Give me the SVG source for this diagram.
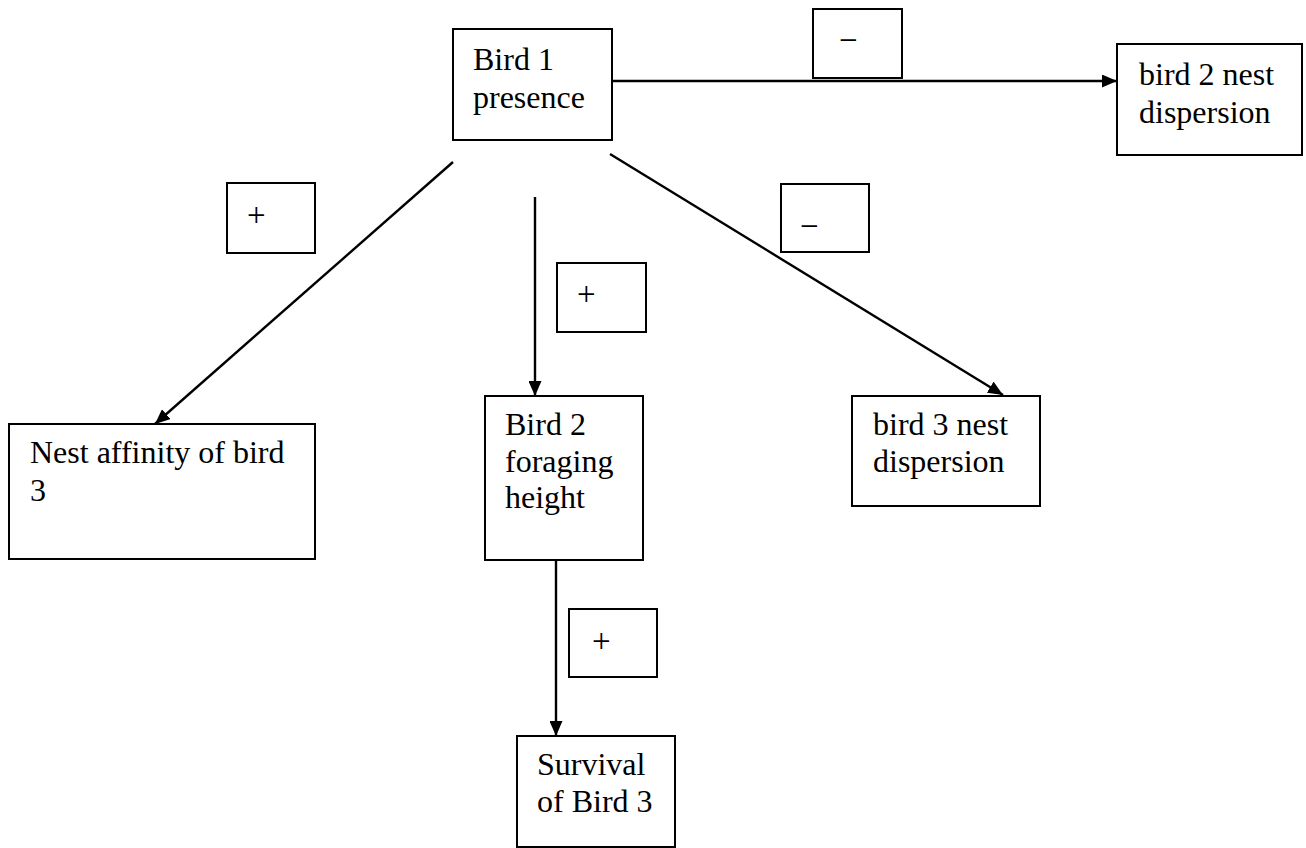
<svg xmlns="http://www.w3.org/2000/svg" width="1306" height="848" viewBox="0 0 1306 848">
<style>
  .box { fill: #ffffff; stroke: #000000; stroke-width: 2; }
  .lbl { fill: none; stroke: #000000; stroke-width: 2; }
  .t { font-family: "Liberation Serif", "Times New Roman", serif; font-size: 32px; fill: #000000; }
  .s { font-family: "Liberation Serif", "Times New Roman", serif; font-size: 33px; fill: #000000; }
  .edge { fill: none; stroke: #000000; stroke-width: 2.4; }
</style>
<defs>
  <marker id="arrow" viewBox="0 0 15 13" refX="15" refY="6.5" markerWidth="15" markerHeight="13" markerUnits="userSpaceOnUse" orient="auto">
    <path d="M0,0 L15,6.5 L0,13 Z" fill="#000000"/>
  </marker>
</defs>
<rect width="1306" height="848" fill="#ffffff"/>

<g id="connectors">
  <line class="edge" x1="612" y1="81" x2="1117" y2="81" marker-end="url(#arrow)"/>
  <line class="edge" x1="453" y1="162" x2="155" y2="424" marker-end="url(#arrow)"/>
  <line class="edge" x1="535" y1="197" x2="535" y2="396" marker-end="url(#arrow)"/>
  <line class="edge" x1="610" y1="154" x2="1003" y2="395" marker-end="url(#arrow)"/>
  <line class="edge" x1="556" y1="560" x2="556" y2="736" marker-end="url(#arrow)"/>
</g>

<g id="sign-labels">
  <g id="sign-minus-top">
    <rect class="lbl" x="813" y="9" width="89" height="69"/>
    <text class="s" x="839" y="51">−</text>
  </g>
  <g id="sign-plus-left">
    <rect class="lbl" x="227" y="183" width="88" height="70"/>
    <text class="s" x="247" y="226">+</text>
  </g>
  <g id="sign-plus-middle">
    <rect class="lbl" x="557" y="263" width="89" height="69"/>
    <text class="s" x="577" y="305">+</text>
  </g>
  <g id="sign-minus-right">
    <rect class="lbl" x="781" y="184" width="88" height="68"/>
    <text class="s" x="800" y="237">−</text>
  </g>
  <g id="sign-plus-bottom">
    <rect class="lbl" x="569" y="609" width="88" height="68"/>
    <text class="s" x="592" y="652">+</text>
  </g>
</g>

<g id="node-bird1-presence">
  <rect class="box" x="453" y="29" width="159" height="111"/>
  <text class="t" x="473" y="70">Bird 1</text>
  <text class="t" x="473" y="108">presence</text>
</g>

<g id="node-bird2-nest-dispersion">
  <rect class="box" x="1117" y="44" width="185" height="111"/>
  <text class="t" x="1139" y="85">bird 2 nest</text>
  <text class="t" x="1139" y="123">dispersion</text>
</g>

<g id="node-nest-affinity">
  <rect class="box" x="9" y="424" width="306" height="135"/>
  <text class="t" x="30" y="463">Nest affinity of bird</text>
  <text class="t" x="30" y="501">3</text>
</g>

<g id="node-bird2-foraging">
  <rect class="box" x="485" y="396" width="158" height="164"/>
  <text class="t" x="505" y="435">Bird 2</text>
  <text class="t" x="505" y="472">foraging</text>
  <text class="t" x="505" y="508">height</text>
</g>

<g id="node-bird3-nest-dispersion">
  <rect class="box" x="852" y="396" width="188" height="110"/>
  <text class="t" x="873" y="435">bird 3 nest</text>
  <text class="t" x="873" y="472">dispersion</text>
</g>

<g id="node-survival-bird3">
  <rect class="box" x="517" y="736" width="158" height="111"/>
  <text class="t" x="537" y="775">Survival</text>
  <text class="t" x="537" y="812">of Bird 3</text>
</g>
</svg>
